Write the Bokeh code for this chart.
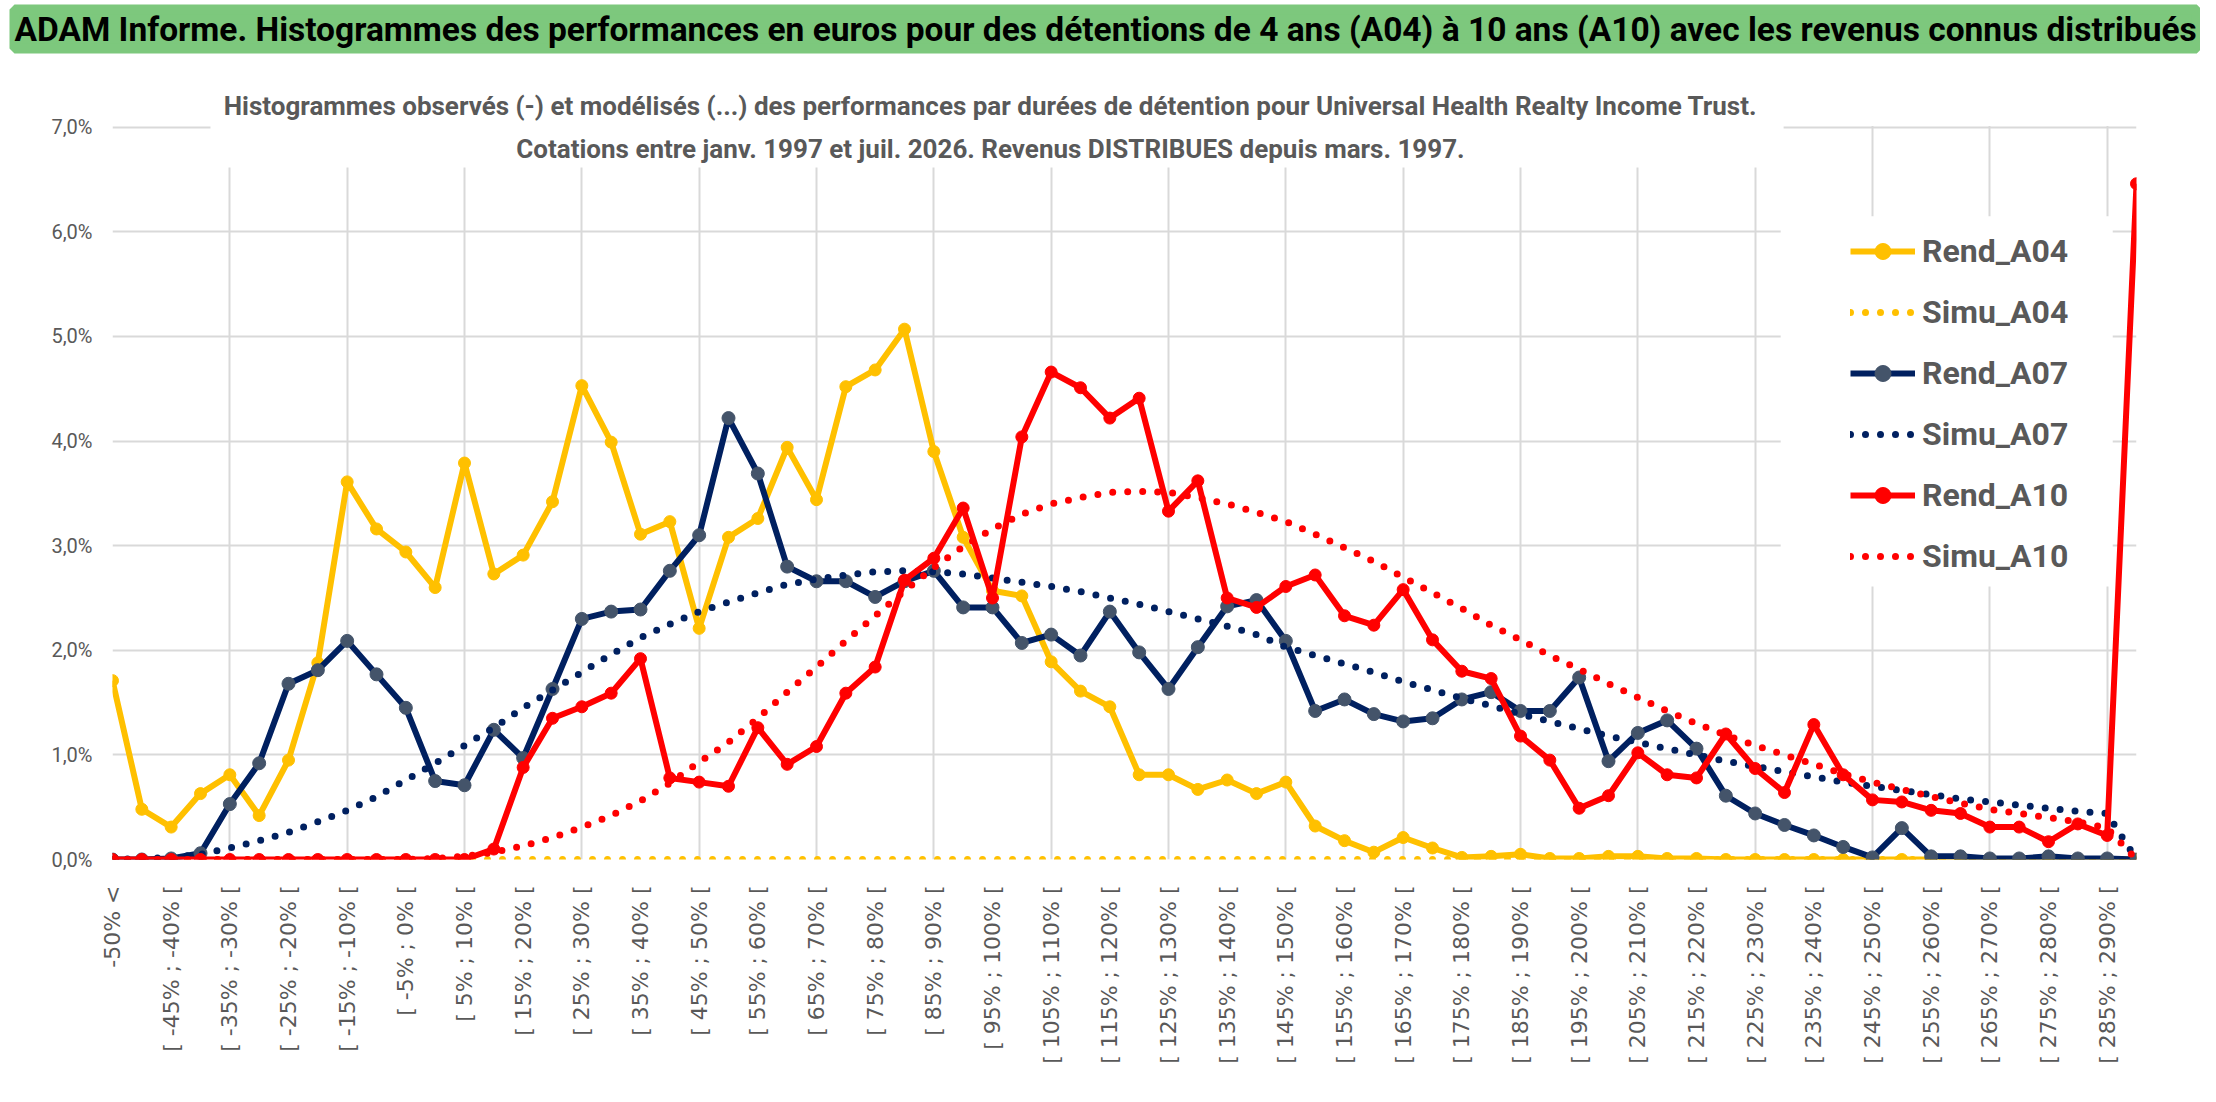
import math
from bokeh.plotting import figure
from bokeh.models import Range1d, FixedTicker, Label, BoxAnnotation, Legend, LegendItem, Title
from bokeh.embed import file_html
from bokeh.resources import INLINE

# ---------------- data ----------------
categories = [
    "-50% <", "[ -50% ; -45% [", "[ -45% ; -40% [", "[ -40% ; -35% [", "[ -35% ; -30% [",
    "[ -30% ; -25% [", "[ -25% ; -20% [", "[ -20% ; -15% [", "[ -15% ; -10% [", "[ -10% ; -5% [",
    "[ -5% ; 0% [", "[ 0% ; 5% [", "[ 5% ; 10% [", "[ 10% ; 15% [", "[ 15% ; 20% [",
    "[ 20% ; 25% [", "[ 25% ; 30% [", "[ 30% ; 35% [", "[ 35% ; 40% [", "[ 40% ; 45% [",
    "[ 45% ; 50% [", "[ 50% ; 55% [", "[ 55% ; 60% [", "[ 60% ; 65% [", "[ 65% ; 70% [",
    "[ 70% ; 75% [", "[ 75% ; 80% [", "[ 80% ; 85% [", "[ 85% ; 90% [", "[ 90% ; 95% [",
    "[ 95% ; 100% [", "[ 100% ; 105% [", "[ 105% ; 110% [", "[ 110% ; 115% [", "[ 115% ; 120% [",
    "[ 120% ; 125% [", "[ 125% ; 130% [", "[ 130% ; 135% [", "[ 135% ; 140% [", "[ 140% ; 145% [",
    "[ 145% ; 150% [", "[ 150% ; 155% [", "[ 155% ; 160% [", "[ 160% ; 165% [", "[ 165% ; 170% [",
    "[ 170% ; 175% [", "[ 175% ; 180% [", "[ 180% ; 185% [", "[ 185% ; 190% [", "[ 190% ; 195% [",
    "[ 195% ; 200% [", "[ 200% ; 205% [", "[ 205% ; 210% [", "[ 210% ; 215% [", "[ 215% ; 220% [",
    "[ 220% ; 225% [", "[ 225% ; 230% [", "[ 230% ; 235% [", "[ 235% ; 240% [", "[ 240% ; 245% [",
    "[ 245% ; 250% [", "[ 250% ; 255% [", "[ 255% ; 260% [", "[ 260% ; 265% [", "[ 265% ; 270% [",
    "[ 270% ; 275% [", "[ 275% ; 280% [", "[ 280% ; 285% [", "[ 285% ; 290% [", "> 290%",
]

# values in percent
rend_a04 = [
    1.71, 0.48, 0.31, 0.63, 0.81, 0.42, 0.95, 1.88, 3.61, 3.16,
    2.94, 2.60, 3.79, 2.73, 2.91, 3.42, 4.53, 3.99, 3.11, 3.23,
    2.21, 3.08, 3.26, 3.94, 3.44, 4.52, 4.68, 5.07, 3.90, 3.08,
    2.57, 2.52, 1.89, 1.61, 1.46, 0.81, 0.81, 0.67, 0.76, 0.63,
    0.74, 0.32, 0.18, 0.07, 0.21, 0.11, 0.02, 0.03, 0.05, 0.01,
    0.01, 0.03, 0.03, 0.01, 0.01, 0.00, 0.00, 0.00, 0.00, 0.00,
    0.00, 0.00, 0.00, 0.00, 0.00, 0.00, 0.00, 0.00, 0.00, 0.00,
]
simu_a04 = [
    0.00, 0.00, 0.00, 0.00, 0.00, 0.00, 0.00, 0.00, 0.00, 0.00,
    0.00, 0.00, 0.00, 0.00, 0.00, 0.00, 0.00, 0.00, 0.00, 0.00,
    0.00, 0.00, 0.00, 0.00, 0.00, 0.00, 0.00, 0.00, 0.00, 0.00,
    0.00, 0.00, 0.00, 0.00, 0.00, 0.00, 0.00, 0.00, 0.00, 0.00,
    0.00, 0.00, 0.00, 0.00, 0.00, 0.00, 0.00, 0.00, 0.00, 0.00,
    0.00, 0.00, 0.00, 0.00, 0.00, 0.00, 0.00, 0.00, 0.00, 0.00,
    0.00, 0.00, 0.00, 0.00, 0.00, 0.00, 0.00, 0.00, 0.00, 0.00,
]
rend_a07 = [
    0.00, 0.00, 0.01, 0.06, 0.53, 0.92, 1.68, 1.81, 2.09, 1.77,
    1.45, 0.75, 0.71, 1.24, 0.97, 1.63, 2.30, 2.37, 2.39, 2.76,
    3.10, 4.22, 3.69, 2.80, 2.66, 2.66, 2.51, 2.66, 2.76, 2.41,
    2.41, 2.07, 2.15, 1.95, 2.37, 1.98, 1.63, 2.03, 2.42, 2.48,
    2.09, 1.42, 1.53, 1.39, 1.32, 1.35, 1.53, 1.60, 1.42, 1.42,
    1.74, 0.94, 1.21, 1.33, 1.06, 0.61, 0.44, 0.33, 0.23, 0.12,
    0.02, 0.30, 0.03, 0.03, 0.01, 0.01, 0.03, 0.01, 0.01, 0.00,
]
simu_a07 = [
    0.00, 0.01, 0.02, 0.05, 0.11, 0.18, 0.26, 0.36, 0.47, 0.60,
    0.76, 0.92, 1.09, 1.26, 1.45, 1.62, 1.79, 1.96, 2.12, 2.25,
    2.37, 2.46, 2.55, 2.63, 2.68, 2.72, 2.75, 2.76, 2.75, 2.73,
    2.69, 2.65, 2.61, 2.56, 2.50, 2.44, 2.37, 2.30, 2.23, 2.15,
    2.03, 1.95, 1.87, 1.79, 1.70, 1.62, 1.54, 1.47, 1.39, 1.32,
    1.25, 1.18, 1.12, 1.06, 1.00, 0.94, 0.89, 0.84, 0.79, 0.74,
    0.70, 0.66, 0.62, 0.58, 0.55, 0.52, 0.49, 0.46, 0.44, 0.00,
]
rend_a10 = [
    0.00, 0.00, 0.00, 0.00, 0.00, 0.00, 0.00, 0.00, 0.00, 0.00,
    0.00, 0.00, 0.00, 0.10, 0.88, 1.35, 1.46, 1.59, 1.92, 0.78,
    0.74, 0.70, 1.26, 0.91, 1.08, 1.59, 1.84, 2.67, 2.88, 3.36,
    2.50, 4.04, 4.66, 4.51, 4.22, 4.41, 3.33, 3.62, 2.50, 2.41,
    2.61, 2.72, 2.33, 2.24, 2.58, 2.10, 1.80, 1.73, 1.18, 0.95,
    0.49, 0.61, 1.02, 0.81, 0.78, 1.20, 0.87, 0.64, 1.29, 0.81,
    0.57, 0.55, 0.47, 0.44, 0.31, 0.31, 0.17, 0.34, 0.23, 6.46,
]
simu_a10 = [
    0.00, 0.00, 0.00, 0.00, 0.00, 0.00, 0.00, 0.00, 0.00, 0.00,
    0.00, 0.01, 0.03, 0.07, 0.13, 0.21, 0.31, 0.42, 0.56, 0.73,
    0.93, 1.12, 1.35, 1.60, 1.84, 2.09, 2.33, 2.57, 2.79, 2.99,
    3.16, 3.30, 3.40, 3.46, 3.51, 3.52, 3.51, 3.46, 3.40, 3.32,
    3.23, 3.11, 2.98, 2.85, 2.70, 2.55, 2.40, 2.24, 2.10, 1.95,
    1.82, 1.68, 1.55, 1.42, 1.30, 1.19, 1.09, 1.00, 0.91, 0.82,
    0.74, 0.67, 0.60, 0.54, 0.48, 0.44, 0.40, 0.36, 0.30, 0.00,
]
y_ticks = [0, 1, 2, 3, 4, 5, 6, 7]
y_tick_labels = ["0,0%", "1,0%", "2,0%", "3,0%", "4,0%", "5,0%", "6,0%", "7,0%"]
series_names = ["Rend_A04", "Simu_A04", "Rend_A07", "Simu_A07", "Rend_A10", "Simu_A10"]

title_text = ("ADAM Informe. Histogrammes des performances en euros pour des détentions "
              "de 4 ans (A04) à 10 ans (A10) avec les revenus connus distribués")
subtitle_1 = ("Histogrammes observés (-) et modélisés (...) des performances par durées "
              "de détention pour Universal Health Realty Income Trust.")
subtitle_2 = "Cotations entre janv. 1997 et juil. 2026. Revenus DISTRIBUES depuis mars. 1997."

# ---------------- style ----------------
FONT = "Roboto"
GREY = "#595959"
GRID = "#D9D9D9"
GREEN = "#7DC87D"
YELLOW = "#FFC000"
NAVY = "#002060"
NAVY_MK = "#44546A"
RED = "#FF0000"
W = 2200
H = 1086
Y_TOP = 7.715   # frame reaches up to the title band; the subtitle lives inside it

x = list(range(len(categories)))
p = figure(width=W, height=H, x_range=Range1d(0, len(categories) - 1),
           y_range=Range1d(0, Y_TOP), toolbar_location=None, output_backend="svg",
           min_border_left=112, min_border_right=64, min_border_top=52, min_border_bottom=227)
p.outline_line_color = None
p.background_fill_color = "white"

p.title = Title(text=title_text, align="left", offset=-98, standoff=8,
                vertical_align="bottom", text_font=FONT, text_font_size="33.5px",
                text_font_style="bold", text_color="black",
                background_fill_color=GREEN, border_line_color=GREEN, border_line_width=10)

p.xaxis.ticker = FixedTicker(ticks=list(range(0, len(categories), 2)))
p.xaxis.major_label_overrides = {i: categories[i] for i in range(0, len(categories), 2)}
p.xaxis.major_label_orientation = math.pi / 2
p.xaxis.axis_line_color = None
p.xaxis.major_tick_in = 0
p.xaxis.major_tick_out = 0
p.xaxis.minor_tick_line_color = None
p.xaxis.major_label_standoff = 26
p.xaxis.major_label_text_font = "DejaVu Sans"
p.xaxis.major_label_text_font_size = "22px"
p.xaxis.major_label_text_color = GREY

p.yaxis.ticker = FixedTicker(ticks=y_ticks)
p.yaxis.major_label_overrides = dict(zip(y_ticks, y_tick_labels))
p.yaxis.axis_line_color = None
p.yaxis.major_tick_in = 0
p.yaxis.major_tick_out = 0
p.yaxis.minor_tick_line_color = None
p.yaxis.major_label_standoff = 20
p.yaxis.major_label_text_font = FONT
p.yaxis.major_label_text_font_size = "20px"
p.yaxis.major_label_text_color = GREY

p.xgrid.ticker = FixedTicker(ticks=list(range(0, len(categories), 4)))
p.xgrid.grid_line_color = GRID
p.xgrid.grid_line_width = 2
p.ygrid.grid_line_color = GRID
p.ygrid.grid_line_width = 2

DOT = "0 15"

r_a04_l = p.line(x, rend_a04, line_color=YELLOW, line_width=6, line_join="round")
r_a04_m = p.scatter(x, rend_a04, size=12, fill_color=YELLOW, line_color=YELLOW)
s_a04 = p.line(x, simu_a04, line_color=YELLOW, line_width=7, line_dash=DOT, line_cap="round")
r_a07_l = p.line(x, rend_a07, line_color=NAVY, line_width=6, line_join="round")
r_a07_m = p.scatter(x, rend_a07, size=13, fill_color=NAVY_MK, line_color=NAVY_MK)
s_a07 = p.line(x, simu_a07, line_color=NAVY, line_width=7, line_dash=DOT, line_cap="round")
r_a10_l = p.line(x, rend_a10, line_color=RED, line_width=6, line_join="round")
r_a10_m = p.scatter(x, rend_a10, size=12, fill_color=RED, line_color=RED)
s_a10 = p.line(x, simu_a10, line_color=RED, line_width=7, line_dash=DOT, line_cap="round")

# white areas: above the 7% line, behind the subtitle and behind the legend
p.add_layout(BoxAnnotation(left=0, right=len(categories) - 1, bottom=7.012, top=Y_TOP,
                           fill_color="white", fill_alpha=1, line_color=None))
p.add_layout(BoxAnnotation(left=3.34, right=56.97, bottom=6.615, top=Y_TOP,
                           fill_color="white", fill_alpha=1, line_color=None))
p.add_layout(BoxAnnotation(left=56.87, right=68.19, bottom=2.61, top=6.15,
                           fill_color="white", fill_alpha=1, line_color=None))

p.add_layout(Label(x=29.93, y=7.2, text=subtitle_1, text_align="center",
                   text_baseline="alphabetic", text_font=FONT, text_font_style="bold",
                   text_font_size="26px", text_color=GREY))
p.add_layout(Label(x=29.93, y=6.79, text=subtitle_2, text_align="center",
                   text_baseline="alphabetic", text_font=FONT, text_font_style="bold",
                   text_font_size="26px", text_color=GREY))

legend = Legend(items=[
    LegendItem(label=series_names[0], renderers=[r_a04_l, r_a04_m]),
    LegendItem(label=series_names[1], renderers=[s_a04]),
    LegendItem(label=series_names[2], renderers=[r_a07_l, r_a07_m]),
    LegendItem(label=series_names[3], renderers=[s_a07]),
    LegendItem(label=series_names[4], renderers=[r_a10_l, r_a10_m]),
    LegendItem(label=series_names[5], renderers=[s_a10]),
], location=(1738, 283), orientation="vertical", glyph_width=65, glyph_height=40,
    label_height=40, spacing=21, padding=0, margin=0, label_standoff=7,
    background_fill_alpha=0, border_line_color=None,
    label_text_font=FONT, label_text_font_style="bold", label_text_font_size="32px",
    label_text_color=GREY)
p.add_layout(legend)

open("out.html", "w").write(file_html(p, INLINE))
